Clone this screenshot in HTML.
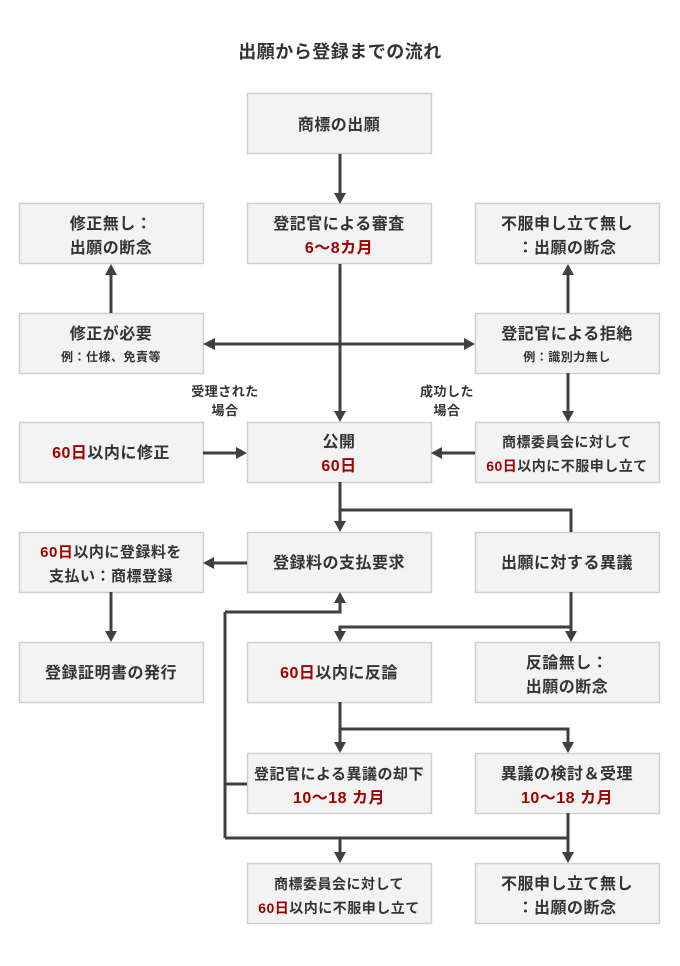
<!DOCTYPE html>
<html><head><meta charset="utf-8"><style>
html,body{margin:0;padding:0;background:#fff;}
svg{display:block;}
text{font-family:"Liberation Sans","Noto Sans CJK JP",sans-serif;font-weight:bold;fill:#333;text-anchor:middle;letter-spacing:0.5px;}
.r{fill:#a00000;}
rect{fill:#f3f3f3;stroke:#cfcfcf;stroke-width:1.5;}
.l{stroke:#404040;stroke-width:3;fill:none;}
.a{fill:#404040;}
</style></head><body>
<svg width="680" height="966" viewBox="0 0 680 966" xmlns="http://www.w3.org/2000/svg">
<text x="340" y="58" font-size="18">出願から登録までの流れ</text>

<rect x="247.5" y="93.5" width="184" height="60"/>
<rect x="19.5" y="203.5" width="184" height="60"/>
<rect x="247.5" y="203.5" width="184" height="60"/>
<rect x="475.5" y="203.5" width="184" height="60"/>
<rect x="19.5" y="313.5" width="184" height="60"/>
<rect x="475.5" y="313.5" width="184" height="60"/>
<rect x="19.5" y="422.5" width="184" height="60"/>
<rect x="247.5" y="422.5" width="184" height="60"/>
<rect x="475.5" y="422.5" width="184" height="60"/>
<rect x="19.5" y="532.5" width="184" height="60"/>
<rect x="247.5" y="532.5" width="184" height="60"/>
<rect x="475.5" y="532.5" width="184" height="60"/>
<rect x="19.5" y="642.5" width="184" height="60"/>
<rect x="247.5" y="642.5" width="184" height="60"/>
<rect x="475.5" y="642.5" width="184" height="60"/>
<rect x="247.5" y="753.5" width="184" height="60"/>
<rect x="475.5" y="753.5" width="184" height="60"/>
<rect x="247.5" y="863.5" width="184" height="60"/>
<rect x="475.5" y="863.5" width="184" height="60"/>

<text x="339" y="130" font-size="16">商標の出願</text>
<text x="111" y="229" font-size="16">修正無し：</text>
<text x="111" y="253" font-size="16">出願の断念</text>
<text x="339" y="229" font-size="16">登記官による審査</text>
<text x="339" y="253" font-size="16" class="r">6～8カ月</text>
<text x="567" y="229" font-size="16">不服申し立て無し</text>
<text x="567" y="253" font-size="16">：出願の断念</text>
<text x="111" y="339" font-size="16">修正が必要</text>
<text x="111" y="361" font-size="12">例：仕様、免責等</text>
<text x="567" y="339" font-size="16">登記官による拒絶</text>
<text x="567" y="361" font-size="12">例：識別力無し</text>
<text x="225" y="396" font-size="13">受理された</text>
<text x="225" y="415" font-size="13">場合</text>
<text x="447" y="396" font-size="13">成功した</text>
<text x="447" y="415" font-size="13">場合</text>
<text x="111" y="458" font-size="16"><tspan class="r">60日</tspan>以内に修正</text>
<text x="339" y="447" font-size="16">公開</text>
<text x="339" y="471" font-size="16" class="r">60日</text>
<text x="567" y="447" font-size="14">商標委員会に対して</text>
<text x="567" y="471" font-size="14"><tspan class="r">60日</tspan>以内に不服申し立て</text>
<text x="111" y="557" font-size="15"><tspan class="r">60日</tspan>以内に登録料を</text>
<text x="111" y="581" font-size="15">支払い：商標登録</text>
<text x="339" y="568" font-size="16">登録料の支払要求</text>
<text x="567" y="568" font-size="16">出願に対する異議</text>
<text x="111" y="678" font-size="16">登録証明書の発行</text>
<text x="339" y="678" font-size="16"><tspan class="r">60日</tspan>以内に反論</text>
<text x="567" y="668" font-size="16">反論無し：</text>
<text x="567" y="692" font-size="16">出願の断念</text>
<text x="339" y="779" font-size="15">登記官による異議の却下</text>
<text x="339" y="803" font-size="16" class="r">10～18 カ月</text>
<text x="567" y="779" font-size="16">異議の検討＆受理</text>
<text x="567" y="803" font-size="16" class="r">10～18 カ月</text>
<text x="339" y="889" font-size="14">商標委員会に対して</text>
<text x="339" y="913" font-size="14"><tspan class="r">60日</tspan>以内に不服申し立て</text>
<text x="567" y="889" font-size="16">不服申し立て無し</text>
<text x="567" y="913" font-size="16">：出願の断念</text>

<path class="l" d="M340 154V194 M340 264V412 M215 344H465 M111 313V274 M568 313V274 M568 373V412 M203 453H237 M475 453H441
M340 482V522 M340 510H571V532 M247 563H213 M111 592V632 M571 592V632 M571 627H340V632
M340 702V743 M340 729H568V743 M568 813V853
M247 784H225 M225 612V838 M225 612H340V602 M225 838H568V853 M340 838V853"/>

<g class="a">
<path d="M334 193h12l-6 11z"/>
<path d="M334 411h12l-6 11z"/>
<path d="M215 338v12l-12-6z"/>
<path d="M464 338v12l11-6z"/>
<path d="M105 275h12l-6-11z"/>
<path d="M562 275h12l-6-11z"/>
<path d="M562 411h12l-6 11z"/>
<path d="M236 447v12l11-6z"/>
<path d="M442 447v12l-11-6z"/>
<path d="M334 521h12l-6 11z"/>
<path d="M214 557v12l-11-6z"/>
<path d="M105 631h12l-6 11z"/>
<path d="M565 631h12l-6 11z"/>
<path d="M334 631h12l-6 11z"/>
<path d="M334 742h12l-6 11z"/>
<path d="M562 742h12l-6 11z"/>
<path d="M562 852h12l-6 11z"/>
<path d="M334 852h12l-6 11z"/>
<path d="M334 603h12l-6-11z"/>
</g>
</svg>
</body></html>
